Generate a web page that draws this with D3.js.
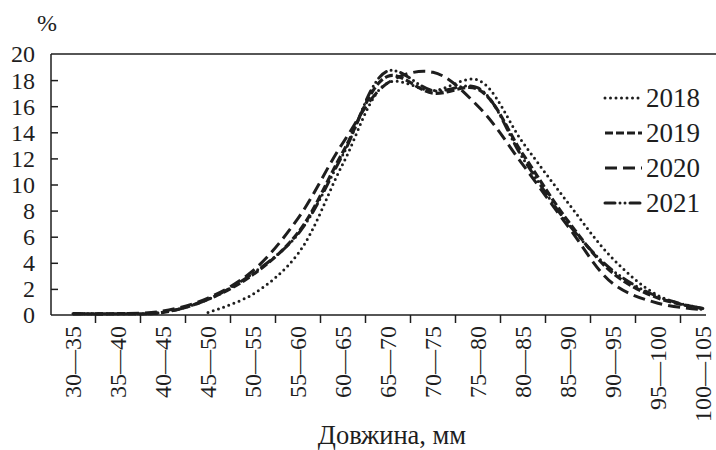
<!DOCTYPE html>
<html>
<head>
<meta charset="utf-8">
<script src="https://cdn.jsdelivr.net/npm/d3@7"></script>
<style>
  html, body { margin: 0; padding: 0; background: #fff; }
  svg { display: block; font-family: "Liberation Serif", "Times New Roman", serif; }
</style>
</head>
<body>
<svg id="chart" width="716" height="450"></svg>
<script>
const categories = ["30—35","35—40","40—45","45—50","50—55","55—60","60—65","65—70","70—75","75—80","80—85","85—90","90—95","95—100","100—105"];
const seriesNames = ["2018","2019","2020","2021"];
const values2018 = [null,null,null,0.2,1.6,4.7,11.6,17.8,17.2,18.0,13.2,8.6,4.3,1.5,0.4];
const values2019 = [0.1,0.1,0.2,1.2,3.1,6.3,12.5,18.3,17.0,17.3,12.3,7.2,3.2,1.3,0.5];
const values2020 = [0.1,0.1,0.3,1.3,3.4,7.4,13.2,17.8,18.6,16.0,11.5,6.8,2.4,0.9,0.4];
const values2021 = [0.1,0.1,0.2,1.2,3.2,6.2,12.3,18.7,17.2,17.4,12.0,7.0,3.4,1.4,0.5];
const yTicks = [0,2,4,6,8,10,12,14,16,18,20];
const yTitle = "%";
const xTitle = "Довжина, мм";

const series = [
  {name: seriesNames[0], values: values2018, dash: "0,5.5", cap: "round", width: 3},
  {name: seriesNames[1], values: values2019, dash: "8,3", cap: "butt", width: 3.2},
  {name: seriesNames[2], values: values2020, dash: "12,6", cap: "butt", width: 3},
  {name: seriesNames[3], values: values2021, dash: "10,5,0,5,0,5", cap: "round", width: 3}
];

const svg = d3.select("#chart");
const ink = "#1e1e1e";
const pLeft = 51, pRight = 706, pTop = 54, pBottom = 315;

const x = d3.scalePoint().domain(categories).range([73, 703]);
const y = d3.scaleLinear().domain([0, 20]).range([pBottom, pTop]);

// top border line
svg.append("line").attr("x1", pLeft).attr("x2", 716).attr("y1", pTop).attr("y2", pTop)
  .attr("stroke", ink).attr("stroke-width", 1.5);

// Y axis
const yAxis = d3.axisRight(y).tickValues(yTicks.filter(d => d > 0 && d < 20)).tickSize(7).tickFormat("");
const yg = svg.append("g").attr("transform", `translate(${pLeft},0)`).call(yAxis);
yg.select(".domain").remove();
yg.selectAll(".tick line").attr("stroke", ink).attr("stroke-width", 1.5);
svg.append("line").attr("x1", pLeft).attr("x2", pLeft).attr("y1", pTop).attr("y2", pBottom)
  .attr("stroke", ink).attr("stroke-width", 1.5);
svg.append("g").selectAll("text").data(yTicks).join("text")
  .attr("x", 35).attr("y", d => y(d)).attr("dy", "0.35em")
  .attr("text-anchor", "end").attr("font-size", 24).attr("fill", ink)
  .text(d => d);

// X axis
svg.append("line").attr("x1", pLeft).attr("x2", pRight).attr("y1", pBottom).attr("y2", pBottom)
  .attr("stroke", ink).attr("stroke-width", 1.5);
const step = x.step();
const boundaries = categories.slice(0, -1).map(c => x(c) + step / 2);
svg.append("g").selectAll("line").data(boundaries).join("line")
  .attr("x1", d => d).attr("x2", d => d).attr("y1", pBottom).attr("y2", pBottom + 8)
  .attr("stroke", ink).attr("stroke-width", 1.5);
svg.append("g").selectAll("text").data(categories).join("text")
  .attr("transform", d => `translate(${x(d)},326) rotate(-90)`)
  .attr("dy", "0.35em").attr("text-anchor", "end")
  .attr("font-size", 24).attr("fill", ink)
  .text(d => d);

// titles
svg.append("text").attr("x", 47).attr("y", 31).attr("text-anchor", "middle")
  .attr("font-size", 24).attr("fill", ink).text(yTitle);
svg.append("text").attr("x", 392).attr("y", 444).attr("text-anchor", "middle")
  .attr("font-size", 26.5).attr("fill", ink).text(xTitle);

// lines
const line = d3.line()
  .defined(d => d != null)
  .x((d, i) => x(categories[i]))
  .y(d => y(d))
  .curve(d3.curveCatmullRom.alpha(0.5));

svg.append("g").selectAll("path").data(series).join("path")
  .attr("d", s => line(s.values))
  .attr("fill", "none").attr("stroke", ink)
  .attr("stroke-width", s => s.width)
  .attr("stroke-dasharray", s => s.dash)
  .attr("stroke-linecap", s => s.cap);

// legend
const lg = svg.append("g").selectAll("g").data(series).join("g")
  .attr("transform", (s, i) => `translate(605,${98 + i * 35})`);
lg.append("line").attr("x1", 0).attr("x2", 37).attr("y1", 0).attr("y2", 0)
  .attr("stroke", ink).attr("stroke-width", s => s.width)
  .attr("stroke-dasharray", s => s.dash).attr("stroke-linecap", s => s.cap);
lg.append("text").attr("x", 41).attr("y", 0).attr("dy", "0.35em")
  .attr("font-size", 27).attr("fill", ink).text(s => s.name);
</script>
</body>
</html>
